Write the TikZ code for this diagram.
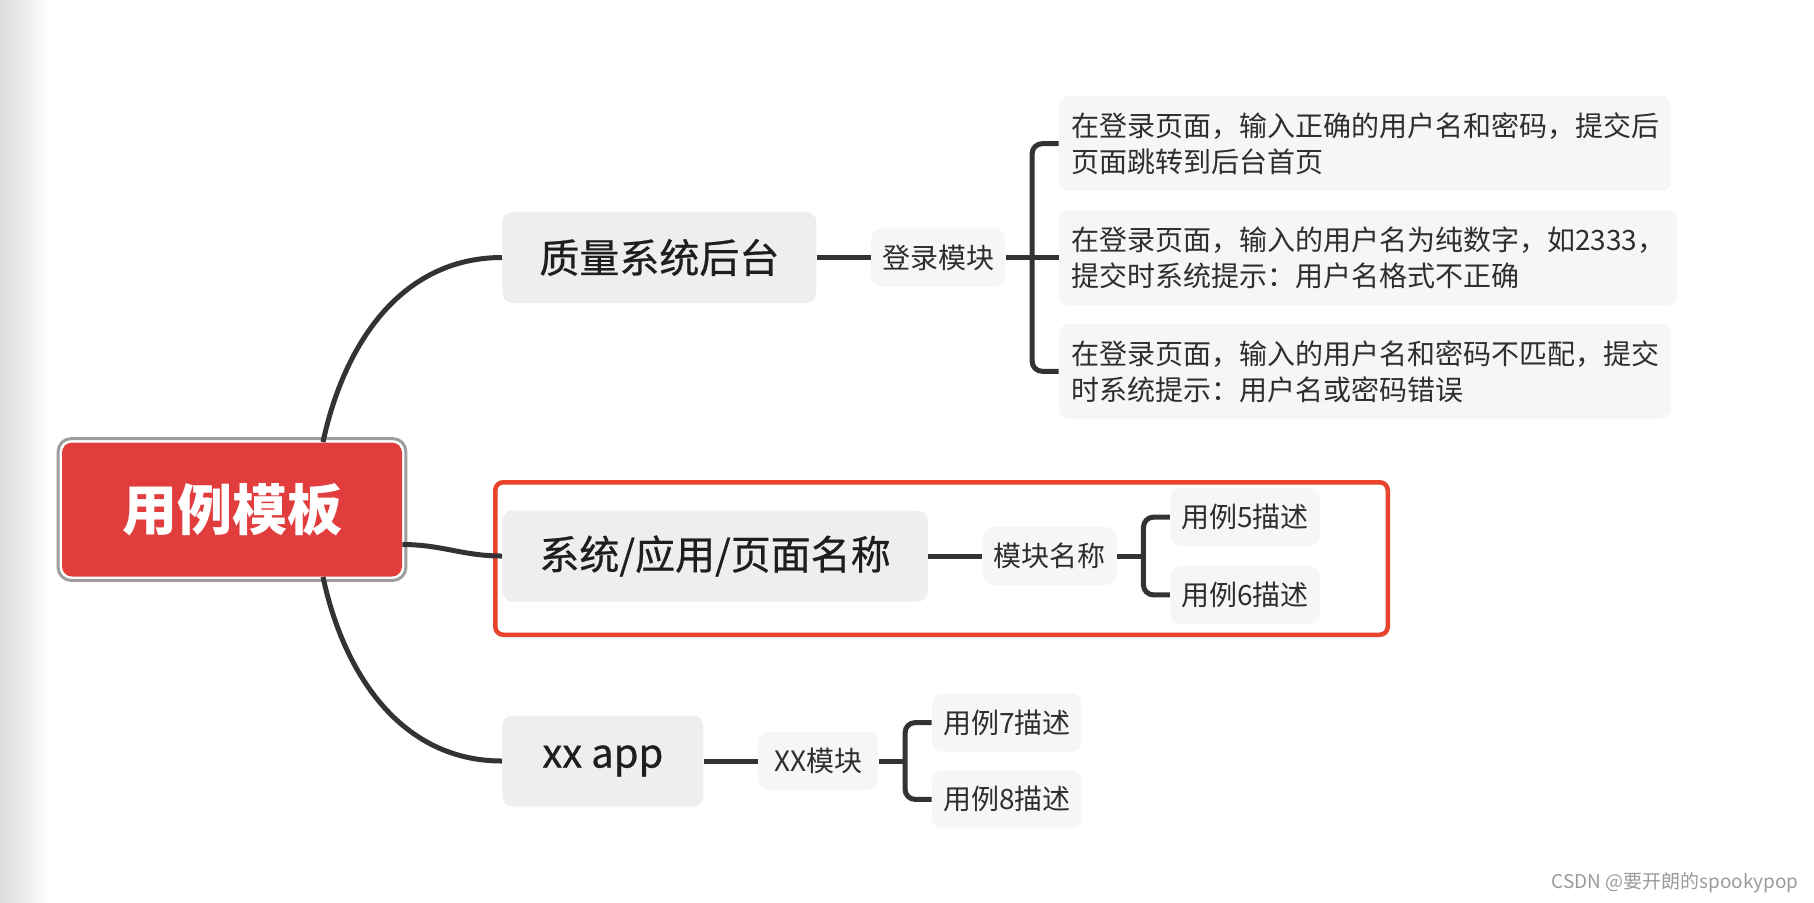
\documentclass[tikz,border=0pt]{standalone}
\usepackage{fontspec}
\setmainfont{Noto Sans CJK SC}
\newfontfamily\topicfont[FakeBold=0.6]{Noto Sans CJK SC}
\usepackage{xcolor}
\usepackage{tikz}
\usetikzlibrary{positioning,fit,calc}

\definecolor{rootred}{HTML}{E13D3D}
\definecolor{rimgray}{HTML}{9E9E9E}
\definecolor{topicfill}{HTML}{EEEEEE}
\definecolor{subfill}{HTML}{F7F5F5}
\definecolor{inkdark}{HTML}{1E1E1E}
\definecolor{inktext}{HTML}{2E2E2E}
\definecolor{linedark}{HTML}{333333}
\definecolor{framered}{HTML}{E8432C}
\definecolor{creditgray}{HTML}{9A9A9A}

\begin{document}
\begin{tikzpicture}[
  x=0.5pt, y=0.5pt,
  node distance=27pt,
  rootbox/.style={rectangle, rounded corners=5pt, fill=rootred, text=white, minimum width=170pt, minimum height=67pt, font=\fontsize{27.5}{30}\selectfont\bfseries},
  rim/.style={rectangle, rounded corners=6.5pt, draw=rimgray, line width=1.5pt, inner sep=1.75pt},
  topicbox/.style={rectangle, rounded corners=5pt, fill=topicfill, text=inkdark, inner xsep=18.5pt, inner ysep=0pt, minimum height=45.5pt, font=\topicfont\fontsize{20}{24}\selectfont},
  subbox/.style={rectangle, rounded corners=5pt, fill=subfill, text=inktext, inner xsep=5.5pt, inner ysep=0pt, minimum height=29pt, font=\fontsize{14}{18}\selectfont},
  longsubbox/.style={subbox, align=left, minimum height=47.5pt, inner xsep=6pt},
  branchline/.style={draw=linedark, line width=2.5pt},
  focus/.style={rectangle, rounded corners=4pt, draw=framered, line width=2.25pt, minimum width=446.25pt, minimum height=76.25pt},
  credit/.style={text=creditgray, font=\fontsize{9.5}{11}\selectfont}
]
\useasboundingbox (0,0) rectangle (1814,-902);
\shade[left color=black!14, right color=white] (0,0) rectangle (50,-902);

\node[rootbox] (root) at (232,-509.5) {用例模板};
\node[rim, fit=(root)] (rootrim) {};

\node[topicbox, anchor=west] (qa) at (502,-257.5) {质量系统后台};
\node[subbox, right=of qa] (login) {登录模块};
\node[longsubbox, right=26.5pt of login] (caseb) {在登录页面，输入的用户名为纯数字，如2333，\\提交时系统提示：用户名格式不正确};
\node[longsubbox, above=9pt of caseb.north west, anchor=south west] (casea) {在登录页面，输入正确的用户名和密码，提交后\\页面跳转到后台首页};
\node[longsubbox, below=9pt of caseb.south west, anchor=north west] (casec) {在登录页面，输入的用户名和密码不匹配，提交\\时系统提示：用户名或密码错误};

\node[topicbox, anchor=west] (sys) at (502,-556) {系统/应用/页面名称};
\node[subbox, right=of sys] (mod) {模块名称};
\node[subbox, above right=4.75pt and 26.5pt of mod.east] (case5) {用例5描述};
\node[subbox, below right=4.75pt and 26.5pt of mod.east] (case6) {用例6描述};
\node[focus] (frame) at (941.5,-558.5) {};

\node[topicbox, anchor=west, inner xsep=20pt] (app) at (502,-761) {xx app};
\node[subbox, right=of app, inner xsep=8pt] (xxmod) {XX模块};
\node[subbox, above right=4.5pt and 26.5pt of xxmod.east] (case7) {用例7描述};
\node[subbox, below right=4.5pt and 26.5pt of xxmod.east] (case8) {用例8描述};

\coordinate (forka) at ($(login.east)!0.5!(caseb.west)$);
\coordinate (forkb) at ($(mod.east)!0.5!(case5.west |- mod.east)$);
\coordinate (forkc) at ($(xxmod.east)!0.5!(case7.west |- xxmod.east)$);

\draw[branchline] ([xshift=45.5pt]root.north) to[out=78,in=180] (qa.west);
\draw[branchline] ([yshift=-17.5pt]root.east) to[out=0,in=180] (sys.west);
\draw[branchline] ([xshift=45.5pt]root.south) to[out=-78,in=180] (app.west);

\draw[branchline] (qa) -- (login);
\draw[branchline] (login) -- (caseb);
\draw[branchline, rounded corners=5pt] (casea.west) -| (forka) |- (casec.west);

\draw[branchline] (sys) -- (mod);
\draw[branchline] (mod) -- (forkb);
\draw[branchline, rounded corners=5pt] (case5.west) -| (forkb) |- (case6.west);

\draw[branchline] (app) -- (xxmod);
\draw[branchline] (xxmod) -- (forkc);
\draw[branchline, rounded corners=5pt] (case7.west) -| (forkc) |- (case8.west);

\node[credit] (wm) at (1675,-883) {CSDN @要开朗的spookypop};
\end{tikzpicture}
\end{document}
